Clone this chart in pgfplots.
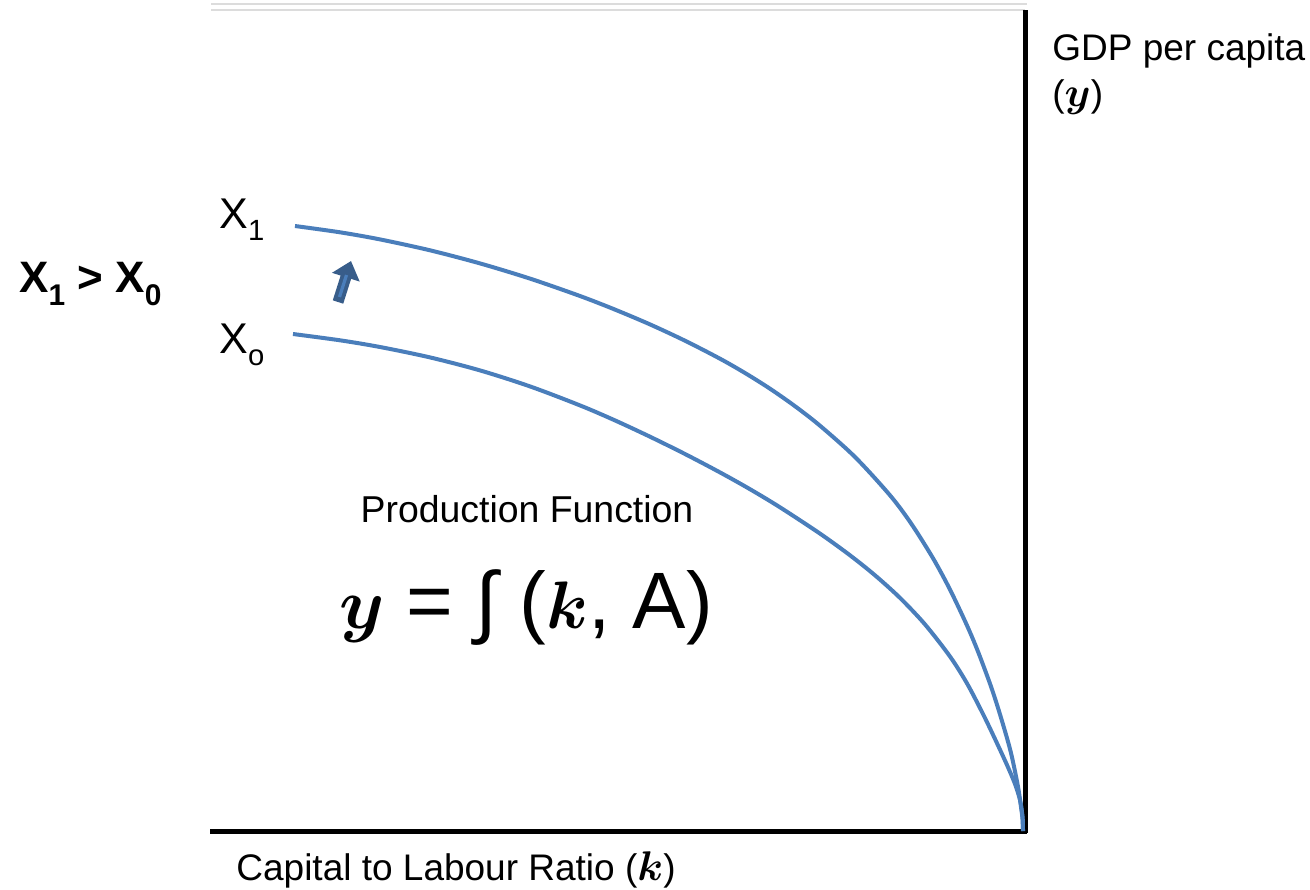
\documentclass[border=0pt]{standalone}
\usepackage{fontspec}
\setmainfont{Liberation Sans}
\usepackage{pgfplots}
\pgfplotsset{compat=1.18}
\usetikzlibrary{arrows.meta}
\definecolor{curveblue}{HTML}{4A7EBB}
\definecolor{arrowdark}{HTML}{385D8A}
\definecolor{faint}{HTML}{DCDCDC}
\newcommand{\bi}[1]{{\boldmath$#1$}}
\newcommand{\sub}[1]{\raisebox{-0.3em}{\scalebox{0.68}{#1}}}
\begin{document}
\begin{tikzpicture}
\begin{axis}[
  width=655pt, height=444.5pt, scale only axis,
  xmin=0, xmax=1310, ymin=0, ymax=889, y dir=reverse,
  hide axis, clip=false,
]
\path[draw=none] (rel axis cs:0,0) rectangle (rel axis cs:1,1);
% faint top lines
\addplot[faint, line width=0.6pt] coordinates {(211,4) (1027,4)};
\addplot[faint, line width=0.6pt] coordinates {(211,10) (1025,10)};
% axes
\addplot[black, line width=2.2pt] coordinates {(1025.5,10) (1025.5,832.5)};
\addplot[black, line width=2.2pt] coordinates {(210,831.5) (1026.6,831.5)};
% X1 curve
\addplot[curveblue, line width=2pt, smooth] coordinates {
(295,226) (340,232.3) (380,239.4) (430,250.3) (480,263.4) (530,278.6)
(580,296) (615,309.6) (650,324.4) (685,340.7) (720,358.7) (745,373)
(770,388.7) (795,406.2) (820,425.7) (855,457) (890,495.3) (911,523.3)
(933,558.2) (950,589.6) (967,625.5) (978,651.6) (990,683.7) (998,707.9)
(1007,738.1) (1012,757.3) (1018,786.7) (1021,807) (1022.4,818) (1023,831)};
% X0 curve
\addplot[curveblue, line width=2pt, smooth] coordinates {
(293,334) (340,340.3) (380,347) (430,357.4) (480,370.4) (530,386.4)
(580,405.4) (615,420.4) (650,436.7) (685,454) (720,472.4) (750,489.2)
(780,507.3) (820,533.6) (850,555.3) (875,575.3) (900,597.9) (925,624.4)
(950,656.5) (967,683.4) (983,714) (995,739) (1007,765) (1015,784)
(1020,800) (1022,812) (1022.8,820) (1023,831)};
% block arrow
\addplot[arrowdark, line width=5.5pt, -{Triangle[width=14pt,length=8.5pt]}] coordinates {(338,302) (351,261)};
\addplot[curveblue, line width=1.6pt] coordinates {(339.5,297) (346.5,275)};
% texts
\node[anchor=base west, inner sep=0pt, font=\fontsize{22}{26}\selectfont\bfseries] at (axis cs:19,292) {X\sub{1} > X\sub{0}};
\node[anchor=base west, inner sep=0pt, font=\fontsize{21.5}{26}\selectfont] at (axis cs:219,228) {X\sub{1}};
\node[anchor=base west, inner sep=0pt, font=\fontsize{21.5}{26}\selectfont] at (axis cs:219,353) {X\sub{o}};
\node[anchor=base, inner sep=0pt, font=\fontsize{18.7}{22}\selectfont] at (axis cs:527,522) {Production Function};
\node[anchor=base, inner sep=0pt, font=\fontsize{40}{44}\selectfont] at (axis cs:526,628) {\scalebox{1.45}{\bi{y}} = ∫ (\scalebox{1.35}{\bi{k}}, A)};
\node[anchor=base west, inner sep=0pt, font=\fontsize{18.5}{22}\selectfont] at (axis cs:1052,60) {GDP per capita};
\node[anchor=base west, inner sep=0pt, font=\fontsize{18.5}{22}\selectfont] at (axis cs:1052,106) {(\scalebox{1.2}{\bi{y}})};
\node[anchor=base west, inner sep=0pt, font=\fontsize{18.5}{22}\selectfont] at (axis cs:236,880) {Capital to Labour Ratio (\scalebox{1.2}{\bi{k}})};
\end{axis}
\end{tikzpicture}
\end{document}
